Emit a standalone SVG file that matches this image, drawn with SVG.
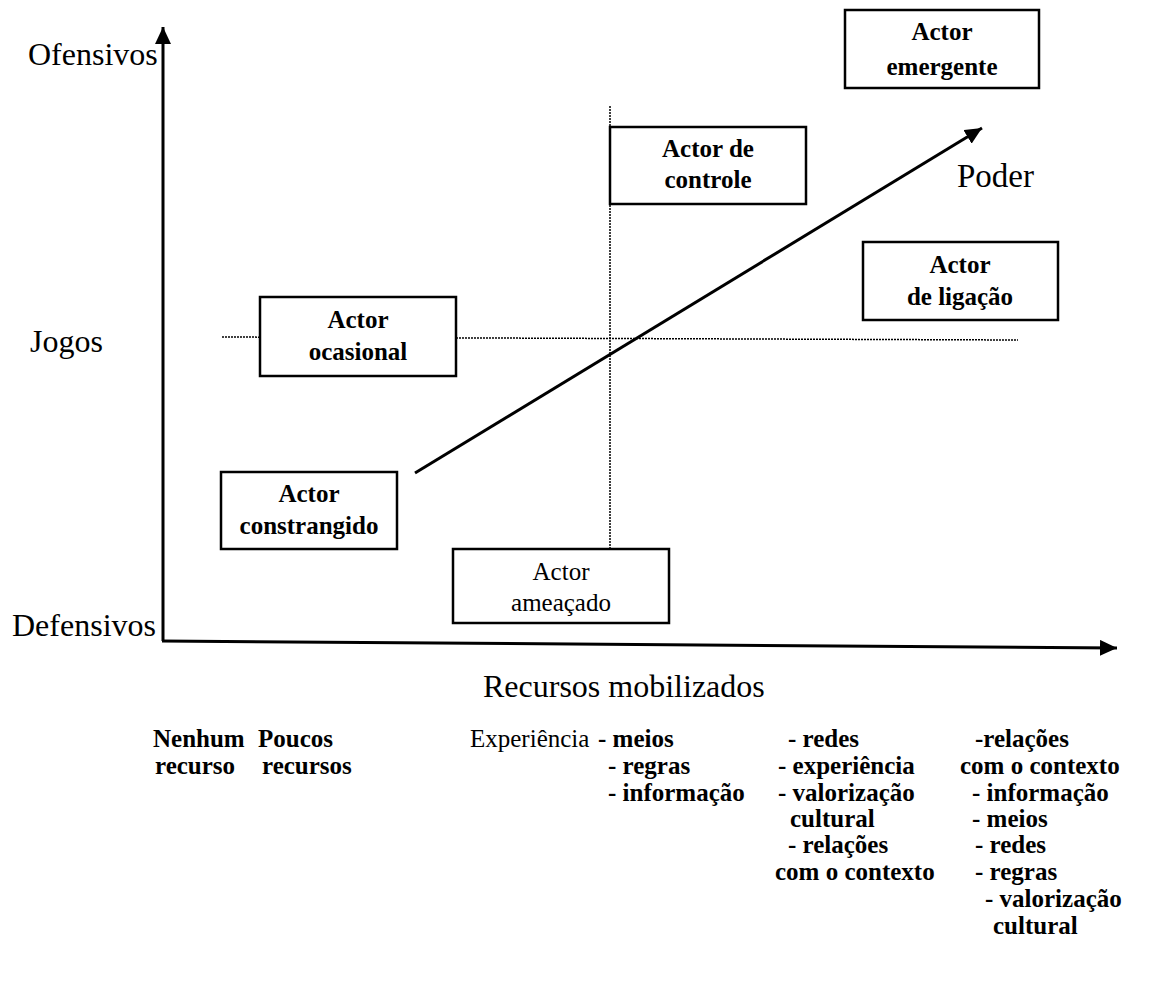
<svg xmlns="http://www.w3.org/2000/svg" width="1153" height="981" viewBox="0 0 1153 981">
<defs>
<style>
.lbl{font-family:'Liberation Serif','Times New Roman','DejaVu Serif',serif;fill:#000}
.axis{font-size:32px}
.box{fill:#fff;stroke:#000;stroke-width:2.5}
.bt{font-size:25px;font-weight:bold;text-anchor:middle}
.bt2{font-size:25px;text-anchor:middle}
.res{font-size:25px;font-weight:bold}
.reg{font-weight:normal}
.dot{stroke:#000;stroke-width:1.5;stroke-dasharray:2 1;fill:none}
.ax{stroke:#000;stroke-width:3;fill:none}
</style>
<marker id="ah" markerUnits="userSpaceOnUse" markerWidth="18" markerHeight="16" refX="17" refY="8" orient="auto">
<path d="M0,0 L17,8 L0,16 z" fill="#000"/>
</marker>
</defs>
<rect width="1153" height="981" fill="#fff"/>
<g id="connectors">
<line class="dot" x1="222" y1="337" x2="1018" y2="340"/>
<line class="dot" x1="610" y1="106" x2="610" y2="549"/>
<line class="ax" x1="163" y1="641" x2="163" y2="27" marker-end="url(#ah)"/>
<line class="ax" x1="162" y1="641" x2="1117" y2="648" marker-end="url(#ah)"/>
<line class="ax" stroke-width="3.5" x1="415" y1="473" x2="982" y2="128" marker-end="url(#ah)"/>
</g>
<g id="axis-labels">
<text class="lbl axis" x="28" y="65">Ofensivos</text>
<text class="lbl axis" x="30" y="352">Jogos</text>
<text class="lbl axis" x="12" y="636">Defensivos</text>
<text class="lbl" font-size="33" x="957" y="187">Poder</text>
<text class="lbl axis" x="483" y="697">Recursos mobilizados</text>
</g>
<g id="emergente">
<rect class="box" x="845" y="10" width="194" height="78"/>
<text class="lbl bt" x="942" y="40">Actor</text>
<text class="lbl bt" x="942" y="75">emergente</text>
</g>
<g id="controle">
<rect class="box" x="610" y="127" width="196" height="77"/>
<text class="lbl bt" x="708" y="157">Actor de</text>
<text class="lbl bt" x="708" y="188">controle</text>
</g>
<g id="ligacao">
<rect class="box" x="863" y="242" width="195" height="78"/>
<text class="lbl bt" x="960" y="273">Actor</text>
<text class="lbl bt" x="960" y="305">de ligação</text>
</g>
<g id="ocasional">
<rect class="box" x="260" y="297" width="196" height="79"/>
<text class="lbl bt" x="358" y="328">Actor</text>
<text class="lbl bt" x="358" y="360">ocasional</text>
</g>
<g id="constrangido">
<rect class="box" x="221" y="472" width="176" height="77"/>
<text class="lbl bt" x="309" y="502">Actor</text>
<text class="lbl bt" x="309" y="534">constrangido</text>
</g>
<g id="ameacado">
<rect class="box" x="453" y="549" width="216" height="74"/>
<text class="lbl bt2" x="561" y="580">Actor</text>
<text class="lbl bt2" x="561" y="611">ameaçado</text>
</g>
<g id="recursos">
<text class="lbl res" x="153" y="747">Nenhum</text>
<text class="lbl res" x="155" y="774">recurso</text>
<text class="lbl res" x="258" y="747">Poucos</text>
<text class="lbl res" x="262" y="774">recursos</text>
<text class="lbl res reg" x="470" y="747">Experiência</text>
<text class="lbl res" x="598" y="747">- meios</text>
<text class="lbl res" x="608" y="774">- regras</text>
<text class="lbl res" x="608" y="801">- informação</text>
<text class="lbl res" x="788" y="747">- redes</text>
<text class="lbl res" x="778" y="774">- experiência</text>
<text class="lbl res" x="778" y="801">- valorização</text>
<text class="lbl res" x="790" y="827">cultural</text>
<text class="lbl res" x="788" y="853">- relações</text>
<text class="lbl res" x="775" y="880">com o contexto</text>
<text class="lbl res" x="975" y="747">-relações</text>
<text class="lbl res" x="960" y="774">com o contexto</text>
<text class="lbl res" x="972" y="801">- informação</text>
<text class="lbl res" x="972" y="827">- meios</text>
<text class="lbl res" x="975" y="853">- redes</text>
<text class="lbl res" x="975" y="880">- regras</text>
<text class="lbl res" x="985" y="907">- valorização</text>
<text class="lbl res" x="993" y="934">cultural</text>
</g>
</svg>
